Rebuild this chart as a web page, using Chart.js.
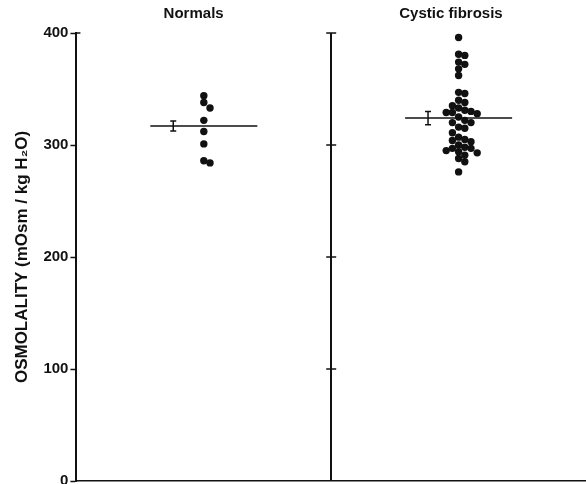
<!DOCTYPE html>
<html>
<head>
<meta charset="utf-8">
<script src="https://cdn.jsdelivr.net/npm/chart.js@4/dist/chart.umd.min.js"></script>
<style>
  html, body { margin: 0; padding: 0; background: #fff; }
  #wrap { width: 586px; height: 484px; }
</style>
</head>
<body>
<div id="wrap"><canvas id="osmo"></canvas></div>
<script>
// groups shown left to right
const groups = ['Normals', 'Cystic fibrosis'];

// individual osmolality readings (mOsm / kg H2O)
const normals = [344, 338, 333, 322, 312, 301, 286, 284];
const cysticFibrosis = [
    396, 381, 380, 374, 372, 368, 362, 347, 346, 340,
    338, 335, 333, 331, 330, 329, 329, 328, 325, 322,
    320, 320, 316, 315, 311, 307, 305, 304, 303, 300,
    298, 297, 297, 295, 294, 293, 291, 288, 285, 276
];

// group means and standard errors
const means = [317, 324];
const stdErrors = [4.5, 6];

const yTicks = [0, 100, 200, 300, 400];

// simple beeswarm so that dots in one column barely overlap
function swarm(values, center) {
    const pxX = 255, pxY = 1.12, d = 6.2;
    const placed = [];
    values.slice().sort((a, b) => b - a).forEach(v => {
        const py = v * pxY;
        for (let k = 0; k < 20; k++) {
            const off = (k % 2 ? 1 : -1) * Math.ceil(k / 2) * d;
            const hit = placed.some(p => Math.hypot(p.px - off, p.py - py) < d);
            if (!hit) { placed.push({ px: off, py: py, v: v }); break; }
        }
    });
    return placed.map(p => ({ x: center + p.px / pxX, y: p.v }));
}

const centers = [0.5, 1.5];
const labelAt = [0.46, 1.47];
const meanHalf = 0.21;

const black = '#111';

const decorations = {
    id: 'decorations',
    afterDatasetsDraw(chart) {
        const { ctx, scales: { x, y } } = chart;
        ctx.save();
        ctx.strokeStyle = black;
        ctx.lineWidth = 1.5;
        // cross ticks on the divider and stub at top of y axis
        const xd = x.getPixelForValue(1);
        yTicks.slice(1).forEach(t => {
            const py = y.getPixelForValue(t);
            ctx.beginPath();
            ctx.moveTo(xd - 5, py);
            ctx.lineTo(xd + 5, py);
            ctx.stroke();
        });
        const x0 = x.getPixelForValue(0);
        ctx.beginPath();
        ctx.moveTo(x0, y.getPixelForValue(400));
        ctx.lineTo(x0 + 4, y.getPixelForValue(400));
        ctx.stroke();
        // error bars (mean +/- SE)
        means.forEach((m, i) => {
            const px = x.getPixelForValue(centers[i] - 0.12);
            const lo = y.getPixelForValue(m - stdErrors[i]);
            const hi = y.getPixelForValue(m + stdErrors[i]);
            ctx.beginPath();
            ctx.moveTo(px, lo); ctx.lineTo(px, hi);
            ctx.moveTo(px - 3, lo); ctx.lineTo(px + 3, lo);
            ctx.moveTo(px - 3, hi); ctx.lineTo(px + 3, hi);
            ctx.stroke();
        });
        ctx.restore();
    }
};

const meanLine = (i) => ({
    type: 'line',
    data: [
        { x: centers[i] - meanHalf, y: means[i] },
        { x: centers[i] + meanHalf, y: means[i] }
    ],
    borderColor: black,
    borderWidth: 1.5,
    pointRadius: 0,
    fill: false
});

const dotSet = (vals, i) => ({
    type: 'scatter',
    data: swarm(vals, centers[i]),
    backgroundColor: black,
    borderColor: black,
    borderWidth: 0,
    pointRadius: 3.7
});

new Chart(document.getElementById('osmo'), {
    data: {
        datasets: [
            meanLine(0), meanLine(1),
            dotSet(normals, 0), dotSet(cysticFibrosis, 1)
        ]
    },
    options: {
        responsive: true,
        maintainAspectRatio: false,
        animation: false,
        layout: { autoPadding: false, padding: { top: 0, right: 0, bottom: 3, left: 12 } },
        plugins: {
            legend: { display: false },
            tooltip: { enabled: false }
        },
        scales: {
            x: {
                type: 'linear',
                min: 0,
                max: 2,
                ticks: { display: false, stepSize: 1 },
                grid: {
                    drawTicks: false,
                    lineWidth: 2,
                    color: c => (c.tick && c.tick.value === 1) ? black : 'rgba(0,0,0,0)'
                },
                border: { display: true, color: black, width: 1.5 },
                afterFit: axis => { axis.height = 0; }
            },
            top: {
                type: 'linear',
                position: 'top',
                min: 0,
                max: 2,
                afterBuildTicks: axis => { axis.ticks = labelAt.map(v => ({ value: v })); },
                ticks: {
                    callback: (v) => groups[labelAt.indexOf(v)],
                    color: black,
                    font: { family: 'Liberation Sans', weight: 'bold', size: 15 },
                    padding: 10,
                    maxRotation: 0
                },
                grid: { display: false, drawTicks: false },
                border: { display: false },
                afterFit: axis => { axis.height = 33; }
            },
            y: {
                min: 0,
                max: 400,
                afterBuildTicks: axis => { axis.ticks = yTicks.map(v => ({ value: v })); },
                afterFit: axis => { axis.paddingTop = 0; axis.paddingBottom = 0; },
                ticks: {
                    color: black,
                    font: { family: 'Liberation Sans', weight: 'bold', size: 15 },
                    padding: 2
                },
                grid: {
                    drawOnChartArea: false,
                    tickLength: 6,
                    tickColor: black,
                    tickWidth: 1.5
                },
                border: { display: true, color: black, width: 2 },
                title: {
                    display: true,
                    text: 'OSMOLALITY (mOsm / kg H\u2082O)',
                    color: black,
                    font: { family: 'Liberation Sans', weight: 'bold', size: 17 },
                    padding: { top: 0, bottom: 9 }
                }
            }
        }
    },
    plugins: [decorations]
});
</script>
</body>
</html>
